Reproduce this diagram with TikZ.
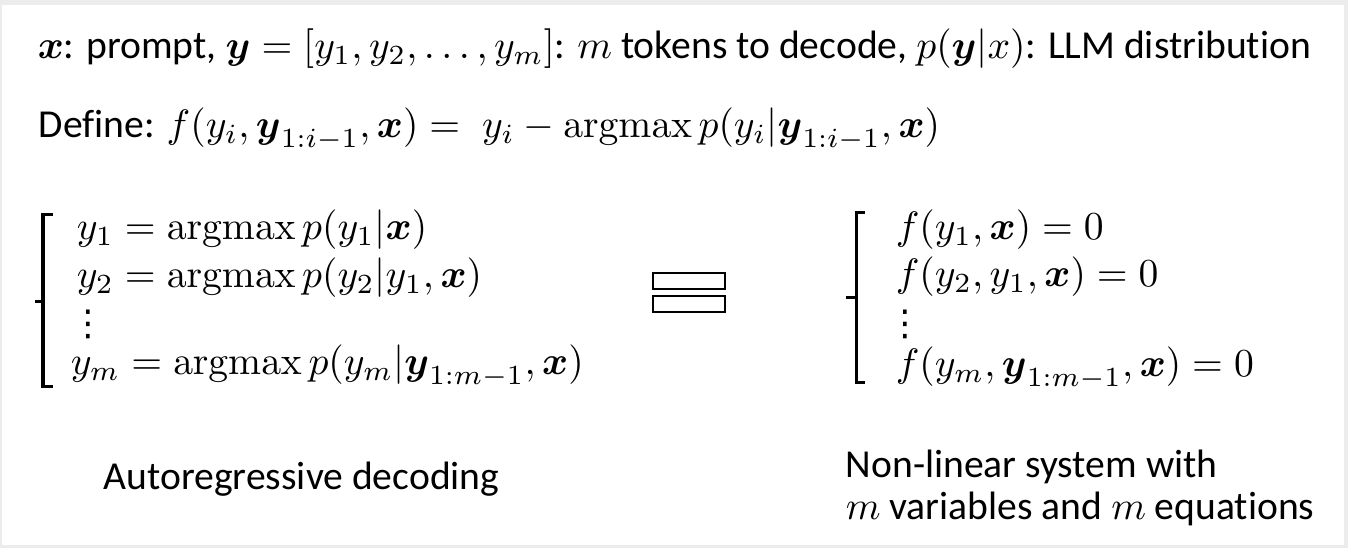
\documentclass[tikz,border=0pt]{standalone}
\usepackage{amsmath}
\usepackage[no-math]{fontspec}
\setmainfont[Ligatures=NoCommon]{Carlito}
\newfontfamily\symfont{DejaVu Sans}
\usetikzlibrary{positioning}

\definecolor{framegray}{RGB}{236,236,236}
\newcommand{\bx}{\boldsymbol{x}}
\newcommand{\by}{\boldsymbol{y}}
\newcommand{\amax}{\operatorname{argmax}}

\tikzset{
  txt/.style={anchor=base west, inner sep=0pt, font=\fontsize{10}{12}\selectfont},
  dots/.style={anchor=center, inner sep=0pt, font=\symfont\fontsize{9}{10}\selectfont},
  sysbrace/.style={line width=0.76pt},
  eqbar/.style={draw, line width=0.63pt}
}

\begin{document}
\begin{tikzpicture}[x=0.2525pt, y=-0.2525pt]
    \fill[framegray] (0,0) rectangle (1348,548);
    \fill[white] (2,5) rectangle (1344,545);
    \useasboundingbox (0,0) rectangle (1348,548);

    \node[txt] (prompt) at (37,59) {$\bx$: prompt, $\by = [y_1, y_2, \dots, y_m]$: $m$ tokens to decode, $p(\by|x)$: LLM distribution};
    \node[txt] (define) at (38,138) {Define: $f(y_i, \by_{1:i-1}, \bx) = \; y_i - \amax p(y_i | \by_{1:i-1}, \bx)$};

    \draw[sysbrace] (53,215) -- (43,215) -- (43,387) -- (53,387);
    \draw[sysbrace] (43,302) -- (35,302);
    \node[txt] (ar1) at (76,240) {$y_1 = \amax p(y_1 | \bx)$};
    \node[txt] (ar2) at (76,288) {$y_2 = \amax p(y_2 | y_1, \bx)$};
    \node[dots] (arv) at (88,324) {⋮};
    \node[txt] (arm) at (70,375) {$y_m = \amax p(y_m | \by_{1:m-1}, \bx)$};

    \draw[eqbar] (653,273) rectangle (725,289);
    \draw[eqbar] (653,296) rectangle (725,312);

    \draw[sysbrace] (865,213) -- (856,213) -- (856,383) -- (865,383);
    \draw[sysbrace] (856,298) -- (846,298);
    \node[txt] (nl1) at (895,240) {$f(y_1, \bx) = 0$};
    \node[txt] (nl2) at (895,287) {$f(y_2, y_1, \bx) = 0$};
    \node[dots] (nlv) at (905,324) {⋮};
    \node[txt] (nlm) at (895,377) {$f(y_m, \by_{1:m-1}, \bx) = 0$};

    \node[txt] (ardesc) at (103,490) {Autoregressive decoding};
    \node[txt] (nldesc) at (845,478) {Non-linear system with};
    \node[txt] (nldesc2) at (845,520) {$m$ variables and $m$ equations};
\end{tikzpicture}
\end{document}
